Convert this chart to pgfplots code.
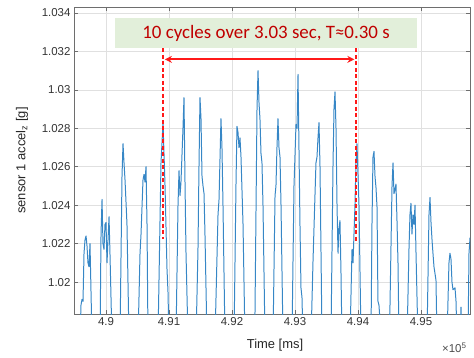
\documentclass[border=0pt]{standalone}
\usepackage{fontspec}
\setmainfont{Liberation Sans}
\newfontfamily\annfont{Carlito}
\usepackage{pgfplots}
\pgfplotsset{compat=1.18}
\usetikzlibrary{calc,arrows.meta}
\definecolor{mblue}{RGB}{55,135,198}
\definecolor{axgray}{RGB}{110,110,110}
\definecolor{boxgreen}{RGB}{226,239,218}
\definecolor{txtred}{RGB}{192,0,0}
\definecolor{lred}{RGB}{255,25,25}
\pgfplotstableread{
x y
4.89492 1.0140
4.89587 1.0170
4.89603 1.0188
4.89619 1.0191
4.89635 1.0190
4.89651 1.0215
4.89667 1.0222
4.89683 1.0224
4.89698 1.0219
4.89714 1.0210
4.89730 1.0208
4.89746 1.0220
4.89762 1.0195
4.89778 1.0170
4.89841 1.0120
4.89905 1.0170
4.89921 1.0225
4.89937 1.0243
4.89952 1.0220
4.89968 1.0217
4.89984 1.0230
4.90000 1.0231
4.90016 1.0210
4.90032 1.0222
4.90048 1.0234
4.90063 1.0215
4.90095 1.0170
4.90159 1.0120
4.90222 1.0170
4.90254 1.0255
4.90270 1.0272
4.90286 1.0262
4.90302 1.0253
4.90317 1.0242
4.90333 1.0230
4.90365 1.0170
4.90444 1.0120
4.90508 1.0170
4.90540 1.0215
4.90556 1.0225
4.90587 1.0253
4.90603 1.0256
4.90619 1.0252
4.90635 1.0260
4.90651 1.0230
4.90667 1.0170
4.90746 1.0120
4.90825 1.0170
4.90873 1.0262
4.90905 1.0283
4.90937 1.0250
4.90968 1.0207
4.90984 1.0195
4.91000 1.0170
4.91048 1.0120
4.91111 1.0170
4.91143 1.0240
4.91159 1.0258
4.91175 1.0245
4.91190 1.0252
4.91222 1.0280
4.91238 1.0296
4.91254 1.0252
4.91270 1.0215
4.91302 1.0170
4.91365 1.0120
4.91429 1.0170
4.91460 1.0217
4.91476 1.0260
4.91492 1.0296
4.91508 1.0285
4.91524 1.0255
4.91540 1.0250
4.91556 1.0246
4.91571 1.0225
4.91603 1.0170
4.91667 1.0120
4.91730 1.0170
4.91778 1.0235
4.91794 1.0243
4.91825 1.0285
4.91841 1.0270
4.91857 1.0240
4.91889 1.0170
4.91968 1.0120
4.92032 1.0170
4.92063 1.0250
4.92079 1.0281
4.92095 1.0278
4.92111 1.0270
4.92127 1.0275
4.92143 1.0265
4.92175 1.0230
4.92206 1.0170
4.92286 1.0120
4.92349 1.0170
4.92365 1.0184
4.92397 1.0290
4.92413 1.0310
4.92429 1.0293
4.92444 1.0285
4.92460 1.0267
4.92476 1.0262
4.92492 1.0240
4.92524 1.0170
4.92587 1.0120
4.92651 1.0170
4.92683 1.0245
4.92698 1.0250
4.92714 1.0270
4.92730 1.0285
4.92746 1.0270
4.92762 1.0265
4.92778 1.0240
4.92810 1.0170
4.92889 1.0120
4.92952 1.0170
4.92984 1.0250
4.93016 1.0282
4.93032 1.0280
4.93048 1.0308
4.93063 1.0270
4.93079 1.0230
4.93095 1.0197
4.93111 1.0192
4.93127 1.0170
4.93190 1.0120
4.93254 1.0170
4.93286 1.0211
4.93317 1.0245
4.93333 1.0262
4.93349 1.0265
4.93365 1.0275
4.93381 1.0283
4.93397 1.0260
4.93429 1.0170
4.93508 1.0120
4.93571 1.0170
4.93603 1.0260
4.93619 1.0290
4.93635 1.0299
4.93651 1.0280
4.93667 1.0240
4.93683 1.0215
4.93698 1.0228
4.93714 1.0232
4.93730 1.0205
4.93746 1.0170
4.93810 1.0120
4.93873 1.0170
4.93905 1.0217
4.93921 1.0210
4.93952 1.0240
4.93968 1.0262
4.93984 1.0272
4.94016 1.0240
4.94048 1.0170
4.94127 1.0120
4.94206 1.0170
4.94222 1.0230
4.94238 1.0265
4.94254 1.0268
4.94270 1.0255
4.94286 1.0249
4.94302 1.0239
4.94317 1.0190
4.94333 1.0188
4.94349 1.0180
4.94365 1.0170
4.94429 1.0120
4.94492 1.0170
4.94508 1.0188
4.94540 1.0250
4.94556 1.0262
4.94571 1.0246
4.94587 1.0248
4.94603 1.0251
4.94619 1.0232
4.94635 1.0210
4.94651 1.0170
4.94714 1.0120
4.94778 1.0170
4.94810 1.0218
4.94825 1.0235
4.94841 1.0241
4.94857 1.0225
4.94873 1.0235
4.94889 1.0230
4.94905 1.0240
4.94921 1.0215
4.94952 1.0170
4.95016 1.0120
4.95095 1.0170
4.95127 1.0235
4.95143 1.0244
4.95159 1.0231
4.95175 1.0222
4.95190 1.0215
4.95206 1.0208
4.95238 1.0201
4.95254 1.0170
4.95317 1.0120
4.95413 1.0170
4.95444 1.0210
4.95460 1.0215
4.95476 1.0212
4.95492 1.0200
4.95508 1.0196
4.95540 1.0197
4.95556 1.0190
4.95571 1.0170
4.95603 1.0150
4.95635 1.0187
4.95651 1.0170
4.95698 1.0120
4.95746 1.0170
4.95762 1.0215
4.95778 1.0223
4.95810 1.0220
}\sig
\begin{document}
\begin{tikzpicture}
\begin{axis}[name=ax, width=396bp, height=307bp, scale only axis,
  xmin=4.89492, xmax=4.95778, ymin=1.01834, ymax=1.03431,
  xtick={4.9,4.91,4.92,4.93,4.94,4.95},
  ytick={1.02,1.022,1.024,1.026,1.028,1.03,1.032,1.034},
  scaled x ticks=false, scaled y ticks=false,
  tick pos=both, xticklabel pos=lower, yticklabel pos=left,
  tick align=inside, major tick length=4bp,
  grid=major, major grid style={black!12, line width=0.5pt},
  axis line style={axgray, line width=0.6pt},
  every tick/.style={axgray, line width=0.5pt},
  tick label style={font=\fontsize{11.5}{13}\selectfont, text=black!80},
  xticklabel style={/pgf/number format/fixed, /pgf/number format/precision=2, /pgf/number format/assume math mode=true},
  yticklabel style={/pgf/number format/fixed, /pgf/number format/precision=3, /pgf/number format/assume math mode=true},
  label style={font=\fontsize{13}{15}\selectfont, text=black!85},
  xlabel={Time [ms]},
  xlabel style={at={(axis description cs:0.5076,-0.101)}, anchor=center},
  ylabel={sensor 1 accel\textsubscript{z} [g]},
  ylabel style={at={(axis description cs:-0.131,0.5)}, anchor=center},
]
\addplot[mblue, line width=1pt, line join=round, mark=none] table[x=x, y=y] {\sig};
\fill[boxgreen] (axis cs:4.90143,1.032156) rectangle (axis cs:4.94937,1.033714);
\node[text=txtred, font=\annfont\fontsize{19}{22}\selectfont] at (axis cs:4.92540,1.032935) {10 cycles over 3.03 sec, T≈0.30 s};
\draw[draw=lred, line width=2bp, dash pattern=on 4bp off 2.5bp] (axis cs:4.90909,1.03216) -- (axis cs:4.90909,1.02223);
\draw[draw=lred, line width=2bp, dash pattern=on 4bp off 2.5bp] (axis cs:4.93968,1.03216) -- (axis cs:4.93968,1.02203);
\draw[draw=lred, line width=2bp, arrows={Stealth[length=7bp,width=7bp,fill=lred]-Stealth[length=7bp,width=7bp,fill=lred]}] (axis cs:4.90935,1.031584) -- (axis cs:4.93942,1.031584);
\end{axis}
\node[anchor=east, text=black!70, font=\fontsize{11.5}{13}\selectfont] at ($(ax.south east)+(0bp,-34bp)$) {×10\textsuperscript{5}};
\path[use as bounding box] ($(ax.south west)+(-74bp,-44bp)$) rectangle ($(ax.north east)+(4bp,7bp)$);
\end{tikzpicture}
\end{document}
